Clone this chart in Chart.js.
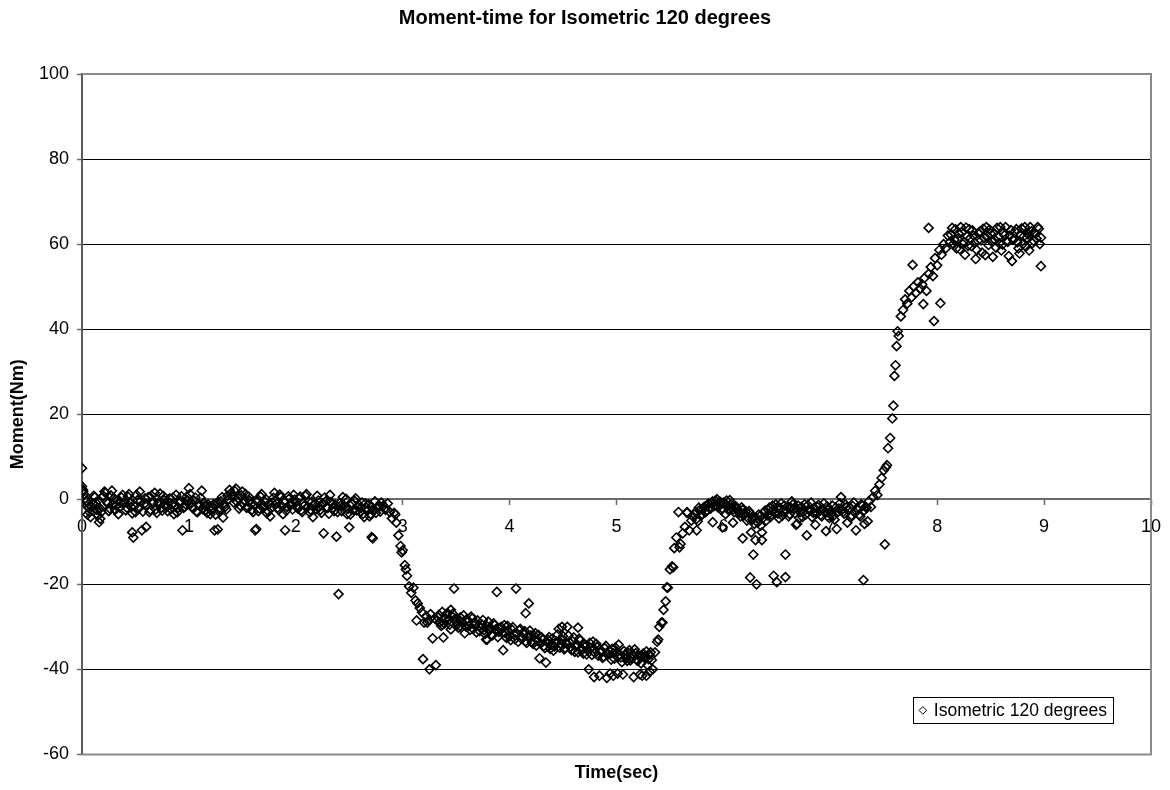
<!DOCTYPE html>
<html>
<head>
<meta charset="utf-8">
<title>Moment-time for Isometric 120 degrees</title>
<script src="https://cdn.jsdelivr.net/npm/chart.js@4.4.0/dist/chart.umd.min.js"></script>
<style>
  html, body { margin: 0; padding: 0; background: #ffffff; }
  canvas { display: block; }
</style>
</head>
<body>
<canvas id="chart" width="1170" height="790"></canvas>
<script>
// Isometric contraction at 120 degrees: moment (Nm) sampled over time (s)

// Resting phase (even readings)
const baselineTime = [
  0.00,0.02,0.04,0.06,0.08,0.10,0.12,0.14,0.16,0.18,
  0.20,0.22,0.24,0.26,0.28,0.30,0.32,0.34,0.36,0.38,
  0.40,0.42,0.44,0.46,0.48,0.50,0.52,0.54,0.56,0.58,
  0.60,0.62,0.64,0.66,0.68,0.70,0.72,0.74,0.76,0.78,
  0.80,0.82,0.84,0.86,0.88,0.90,0.92,0.94,0.96,0.98,
  1.00,1.02,1.04,1.06,1.08,1.10,1.12,1.14,1.16,1.18,
  1.20,1.22,1.24,1.26,1.28,1.30,1.32,1.34,1.36,1.38,
  1.40,1.42,1.44,1.46,1.48,1.50,1.52,1.54,1.56,1.58,
  1.60,1.62,1.64,1.66,1.68,1.70,1.72,1.74,1.76,1.78,
  1.80,1.82,1.84,1.86,1.88,1.90,1.92,1.94,1.96,1.98,
  2.00,2.02,2.04,2.06,2.08,2.10,2.12,2.14,2.16,2.18,
  2.20,2.22,2.24,2.26,2.28,2.30,2.32,2.34,2.36,2.38,
  2.40,2.42,2.44,2.46,2.48,2.50,2.52,2.54,2.56,2.58,
  2.60,2.62,2.64,2.66,2.68,2.70,2.72,2.74,2.76,2.78,
  2.80
];
const baselineMoment = [
  3.0, 1.2, -0.5, -2.0, -4.2, -1.0, 0.5, -2.5, -5.4, -3.0,
  0.8, 1.5, -1.0, -2.2, 2.0, 0.2, -1.5, -3.5, -0.8, 1.0,
  -0.5, -2.0, 1.2, -1.8, -9.0, -3.0, -0.2, 1.8, -7.3, -1.2,
  -6.5, 0.5, -2.5, -1.0, 1.5, -3.2, -0.6, -2.0, 0.8, -1.5,
  -2.8, 0.2, -1.2, -3.5, 1.0, -2.0, -0.5, -7.3, -1.8, 0.6,
  2.6, -1.0, -2.2, 0.4, -3.0, -1.5, 2.0, -0.8, -2.6, -1.2,
  -3.5, -2.0, -7.3, -1.0, -2.8, -0.5, -4.3, -1.8, 0.8, 2.2,
  1.0, -0.8, 2.5, 0.2, -1.5, 1.8, -0.2, -2.0, 0.6, -1.2,
  -3.0, -7.3, -0.5, -2.2, 1.2, -1.5, 0.0, -2.8, -4.0, -0.8,
  1.5, -1.0, -2.5, 0.5, -3.5, -7.3, -1.8, 0.2, -1.2, 1.0,
  -0.8, -2.2, 0.6, -3.0, -1.5, 1.2, -0.5, -2.5, -4.2, -1.0,
  0.8, -1.8, -3.2, -8.0, -0.5, -2.0, 1.0, -1.2, -2.8, -8.8,
  -22.3, -1.5, 0.5, -2.0, -3.5, -6.6, -1.0, -2.5, 0.2, -1.8,
  -3.0, -0.8, -4.2, -2.0, -1.2, -3.5, -9.2, -0.5, -2.2, -1.5,
  -0.8
];
// Resting phase (odd readings)
const baselineTimeOdd = [
  0.01,0.03,0.05,0.07,0.09,0.11,0.13,0.15,0.17,0.19,
  0.21,0.23,0.25,0.27,0.29,0.31,0.33,0.35,0.37,0.39,
  0.41,0.43,0.45,0.47,0.49,0.51,0.53,0.55,0.57,0.59,
  0.61,0.63,0.65,0.67,0.69,0.71,0.73,0.75,0.77,0.79,
  0.81,0.83,0.85,0.87,0.89,0.91,0.93,0.95,0.97,0.99,
  1.01,1.03,1.05,1.07,1.09,1.11,1.13,1.15,1.17,1.19,
  1.21,1.23,1.25,1.27,1.29,1.31,1.33,1.35,1.37,1.39,
  1.41,1.43,1.45,1.47,1.49,1.51,1.53,1.55,1.57,1.59,
  1.61,1.63,1.65,1.67,1.69,1.71,1.73,1.75,1.77,1.79,
  1.81,1.83,1.85,1.87,1.89,1.91,1.93,1.95,1.97,1.99,
  2.01,2.03,2.05,2.07,2.09,2.11,2.13,2.15,2.17,2.19,
  2.21,2.23,2.25,2.27,2.29,2.31,2.33,2.35,2.37,2.39,
  2.41,2.43,2.45,2.47,2.49,2.51,2.53,2.55,2.57,2.59,
  2.61,2.63,2.65,2.67,2.69,2.71,2.73,2.75,2.77,2.79
];
const baselineMomentOdd = [
  2.2, 0.2, -1.5, -3.0, -1.8, 0.8, -0.8, -3.8, -2.2, 0.5,
  1.8, -0.5, -2.8, 0.9, -1.2, -2.5, -0.3, -1.9, 0.4, -1.0,
  -2.6, 0.6, -0.9, -3.3, -1.6, 1.0, -2.2, -0.4, -2.9, 0.2,
  -1.4, -3.0, 0.9, -0.7, -2.4, -1.1, 1.3, -2.7, -0.2, -1.9,
  -0.6, -2.3, 0.4, -1.5, -3.1, -0.9, 0.7, -2.0, -1.2, -0.3,
  1.2, -1.8, -0.4, -2.9, -1.0, 0.3, -2.3, -1.5, -3.2, -2.0,
  -2.6, -1.2, -3.6, -0.7, -2.0, 0.5, -1.4, -2.4, 0.0, 1.4,
  0.4, 1.9, -0.6, -2.2, 0.9, -1.0, 1.2, -1.7, -0.4, -2.5,
  -1.3, -0.2, -2.8, 0.6, -1.9, -0.6, -3.3, -1.1, -2.1, 0.3,
  -0.4, -2.0, 1.1, -1.6, -0.5, -2.7, 0.7, -1.3, -2.4, -0.1,
  -1.7, 0.2, -2.6, -0.9, 0.8, -1.8, -3.1, -0.6, -1.4, -2.3,
  -0.3, -2.5, -1.0, 0.4, -1.9, -3.4, -0.7, -2.1, -1.3, -3.0,
  -0.9, -2.8, -1.5, 0.1, -2.2, -3.6, -1.1, -0.4, -2.6, -1.4,
  -2.1, -3.4, -1.0, -2.7, -4.0, -1.8, -2.5, -3.2, -1.6, -2.9
];

// Flexion onset
const dropTime = [
  2.82,2.84,2.86,2.88,2.90,2.92,2.94,2.96,2.98,3.00,
  3.02,3.04,3.06,3.08,3.10,3.12,3.14,3.16,3.18,3.20,
  3.22,3.24,3.26,3.28,3.30
];
const dropMoment = [
  -1.5, -2.5, -1.0, -3.0, -4.5, -3.2, -5.5, -8.5, -11.0, -12.0,
  -15.5, -18.0, -20.5, -22.0, -20.8, -23.8, -24.5, -25.6, -26.6, -29.0,
  -27.5, -28.5, -27.0, -32.7, -28.0
];

// Sustained flexion (even readings)
const holdTime = [
  3.32,3.34,3.36,3.38,3.40,3.42,3.44,3.46,3.48,3.50,
  3.52,3.54,3.56,3.58,3.60,3.62,3.64,3.66,3.68,3.70,
  3.72,3.74,3.76,3.78,3.80,3.82,3.84,3.86,3.88,3.90,
  3.92,3.94,3.96,3.98,4.00,4.02,4.04,4.06,4.08,4.10,
  4.12,4.14,4.16,4.18,4.20,4.22,4.24,4.26,4.28,4.30,
  4.32,4.34,4.36,4.38,4.40,4.42,4.44,4.46,4.48,4.50,
  4.52,4.54,4.56,4.58,4.60,4.62,4.64,4.66,4.68,4.70,
  4.72,4.74,4.76,4.78,4.80,4.82,4.84,4.86,4.88,4.90,
  4.92,4.94,4.96,4.98,5.00,5.02,5.04,5.06,5.08,5.10,
  5.12,5.14,5.16,5.18,5.20,5.22,5.24,5.26,5.28,5.30,
  5.32,5.34
];
const holdMoment = [
  -28.5, -27.2, -29.8, -32.5, -28.0, -26.8, -29.5, -27.5, -21.0, -28.8,
  -30.2, -27.8, -29.0, -31.5, -28.2, -29.8, -27.6, -30.5, -29.2, -28.5,
  -31.0, -29.5, -30.8, -33.0, -28.8, -30.2, -32.0, -29.6, -21.8, -31.2,
  -30.0, -35.5, -31.5, -29.8, -32.2, -30.6, -31.8, -21.0, -33.5, -30.5,
  -32.5, -31.0, -33.8, -24.5, -32.0, -34.0, -31.5, -33.2, -37.4, -32.5,
  -34.5, -38.4, -33.0, -35.2, -32.8, -34.6, -33.5, -30.5, -34.0, -32.2,
  -35.0, -30.0, -33.6, -35.5, -32.5, -34.8, -36.0, -33.2, -35.4, -34.0,
  -36.5, -40.0, -35.0, -33.5, -36.2, -34.8, -41.5, -35.8, -37.0, -34.5,
  -36.5, -41.0, -35.2, -37.5, -36.0, -34.2, -37.2, -41.2, -36.5, -38.0,
  -35.5, -37.5, -41.8, -36.2, -38.0, -36.8, -41.5, -37.0, -35.8, -37.6,
  -36.0, -40.0
];
// Sustained flexion (odd readings)
const holdTimeOdd = [
  3.33,3.35,3.37,3.39,3.41,3.43,3.45,3.47,3.49,3.51,
  3.53,3.55,3.57,3.59,3.61,3.63,3.65,3.67,3.69,3.71,
  3.73,3.75,3.77,3.79,3.81,3.83,3.85,3.87,3.89,3.91,
  3.93,3.95,3.97,3.99,4.01,4.03,4.05,4.07,4.09,4.11,
  4.13,4.15,4.17,4.19,4.21,4.23,4.25,4.27,4.29,4.31,
  4.33,4.35,4.37,4.39,4.41,4.43,4.45,4.47,4.49,4.51,
  4.53,4.55,4.57,4.59,4.61,4.63,4.65,4.67,4.69,4.71,
  4.73,4.75,4.77,4.79,4.81,4.83,4.85,4.87,4.89,4.91,
  4.93,4.95,4.97,4.99,5.01,5.03,5.05,5.07,5.09,5.11,
  5.13,5.15,5.17,5.19,5.21,5.23,5.25,5.27,5.29,5.31,
  5.33
];
const holdMomentOdd = [
  -27.8, -28.9, -26.5, -29.2, -27.0, -28.4, -30.6, -26.9, -28.1, -29.5,
  -28.6, -30.1, -27.3, -29.9, -28.8, -30.7, -28.0, -29.4, -31.3, -29.8,
  -30.3, -28.4, -31.7, -29.9, -30.9, -31.9, -29.2, -30.6, -32.4, -30.4,
  -31.4, -29.6, -32.6, -31.0, -33.1, -30.1, -32.9, -31.6, -30.8, -32.8,
  -31.7, -33.4, -32.3, -30.9, -33.7, -32.1, -34.4, -31.9, -33.9, -33.0,
  -35.0, -33.6, -32.4, -34.2, -35.6, -33.8, -31.8, -34.9, -33.2, -35.3,
  -33.9, -32.1, -34.7, -33.4, -35.9, -34.1, -32.8, -35.1, -36.3, -34.6,
  -35.5, -33.8, -36.6, -35.2, -34.0, -36.8, -35.7, -37.3, -35.0, -36.4,
  -35.6, -37.7, -36.2, -34.9, -37.0, -36.5, -38.3, -35.7, -37.4, -36.1,
  -37.9, -36.4, -35.3, -37.8, -36.9, -38.6, -36.3, -37.2, -39.0, -36.6,
  -37.8
];

// Release
const riseTime = [
  5.36,5.38,5.40,5.42,5.44,5.46,5.48,5.50,5.52,5.54,
  5.56,5.58,5.60,5.62,5.64,5.66,5.68,5.70
];
const riseMoment = [
  -36.0, -33.5, -30.0, -29.0, -26.0, -24.0, -20.8, -16.5, -15.8, -11.5,
  -9.0, -3.0, -10.5, -8.0, -6.5, -3.2, -7.3, -5.0
];

// Second rest (even readings)
const returnTime = [
  5.72,5.74,5.76,5.78,5.80,5.82,5.84,5.86,5.88,5.90,
  5.92,5.94,5.96,5.98,6.00,6.02,6.04,6.06,6.08,6.10,
  6.12,6.14,6.16,6.18,6.20,6.22,6.24,6.26,6.28,6.30,
  6.32,6.34,6.36,6.38,6.40,6.42,6.44,6.46,6.48,6.50,
  6.52,6.54,6.56,6.58,6.60,6.62,6.64,6.66,6.68,6.70,
  6.72,6.74,6.76,6.78,6.80,6.82,6.84,6.86,6.88,6.90,
  6.92,6.94,6.96,6.98,7.00,7.02,7.04,7.06,7.08,7.10,
  7.12,7.14,7.16,7.18,7.20,7.22,7.24,7.26,7.28,7.30,
  7.32,7.34
];
const returnMoment = [
  -4.2, -3.0, -5.2, -2.5, -3.5, -1.8, -2.8, -1.0, -2.2, -0.5,
  -1.5, 0.0, -1.2, -2.5, -0.8, -3.5, -1.5, -0.2, -2.0, -3.0,
  -1.8, -2.8, -4.0, -2.5, -3.5, -5.0, -2.8, -7.8, -4.2, -9.6,
  -5.5, -4.0, -7.8, -3.0, -5.0, -2.5, -4.2, -1.5, -3.2, -2.0,
  -4.5, -1.0, -2.8, -13.0, -1.8, -3.5, -0.5, -2.2, -6.0, -1.5,
  -3.0, -4.2, -1.2, -8.5, -2.5, -0.8, -3.2, -6.0, -1.8, -2.8,
  -4.0, -1.0, -7.5, -2.5, -3.6, -1.5, -4.8, -7.0, -2.2, 0.5,
  -3.0, -1.2, -5.5, -2.0, -3.8, -0.8, -7.3, -2.5, -4.0, -1.5,
  -5.8, -2.0
];
// Second rest (odd readings)
const returnTimeOdd = [
  5.73,5.75,5.77,5.79,5.81,5.83,5.85,5.87,5.89,5.91,
  5.93,5.95,5.97,5.99,6.01,6.03,6.05,6.07,6.09,6.11,
  6.13,6.15,6.17,6.19,6.21,6.23,6.25,6.27,6.29,6.31,
  6.33,6.35,6.37,6.39,6.41,6.43,6.45,6.47,6.49,6.51,
  6.53,6.55,6.57,6.59,6.61,6.63,6.65,6.67,6.69,6.71,
  6.73,6.75,6.77,6.79,6.81,6.83,6.85,6.87,6.89,6.91,
  6.93,6.95,6.97,6.99,7.01,7.03,7.05,7.07,7.09,7.11,
  7.13,7.15,7.17,7.19,7.21,7.23,7.25,7.27,7.29,7.31,
  7.33
];
const returnMomentOdd = [
  -3.6, -4.6, -2.0, -3.9, -2.4, -3.1, -1.4, -2.0, -0.8, -1.6,
  -0.4, -1.9, -0.6, -2.2, -1.0, -0.3, -2.6, -1.2, -2.4, -1.6,
  -2.2, -3.3, -1.9, -3.8, -2.9, -4.4, -3.3, -4.8, -5.8, -4.4,
  -3.6, -6.2, -4.4, -2.7, -3.8, -2.0, -3.6, -2.4, -1.2, -3.4,
  -2.1, -3.9, -1.5, -2.6, -4.0, -2.0, -1.2, -3.3, -2.4, -4.4,
  -1.8, -2.9, -3.6, -1.4, -2.7, -4.2, -2.0, -3.4, -1.3, -3.7,
  -2.3, -3.2, -1.7, -4.4, -2.8, -3.9, -2.0, -3.0, -1.0, -2.5,
  -3.4, -1.9, -2.6, -4.3, -1.6, -3.1, -2.2, -3.6, -1.2, -2.8,
  -1.8
];

// Extension ramp
const rampTime = [
  7.36,7.38,7.40,7.42,7.44,7.46,7.48,7.50,7.52,7.54,
  7.56,7.58,7.60,7.62,7.64,7.66,7.68,7.70,7.72,7.74,
  7.76,7.78,7.80,7.82,7.84,7.86,7.88,7.90,7.92,7.94,
  7.96,7.98,8.00,8.02,8.04,8.06,8.08,8.10
];
const rampMoment = [
  -0.5, -1.8, 0.5, 2.0, 1.0, 3.5, 5.0, 6.8, 7.5, 12.0,
  14.4, 19.0, 29.0, 36.0, 38.4, 43.0, 44.5, 47.0, 46.0, 49.0,
  47.5, 50.0, 48.5, 51.0, 49.5, 50.5, 52.0, 49.0, 53.0, 54.6,
  52.5, 56.7, 55.0, 58.6, 57.5, 60.0, 59.0, 62.0
];

// Sustained extension (even readings)
const plateauTime = [
  8.12,8.14,8.16,8.18,8.20,8.22,8.24,8.26,8.28,8.30,
  8.32,8.34,8.36,8.38,8.40,8.42,8.44,8.46,8.48,8.50,
  8.52,8.54,8.56,8.58,8.60,8.62,8.64,8.66,8.68,8.70,
  8.72,8.74,8.76,8.78,8.80,8.82,8.84,8.86,8.88,8.90,
  8.92,8.94,8.96
];
const plateauMoment = [
  60.5, 63.8, 61.0, 59.0, 62.5, 64.0, 60.0, 57.5, 61.8, 63.5,
  59.5, 62.0, 56.5, 60.8, 63.0, 58.0, 61.5, 64.0, 59.8, 62.5,
  57.0, 61.0, 63.8, 60.2, 58.5, 62.8, 64.0, 60.5, 62.0, 56.0,
  61.2, 63.5, 59.0, 62.2, 60.0, 64.0, 61.5, 58.5, 63.0, 60.8,
  62.5, 64.0, 60.0
];
// Sustained extension (odd readings)
const plateauTimeOdd = [
  8.13,8.15,8.17,8.19,8.21,8.23,8.25,8.27,8.29,8.31,
  8.33,8.35,8.37,8.39,8.41,8.43,8.45,8.47,8.49,8.51,
  8.53,8.55,8.57,8.59,8.61,8.63,8.65,8.67,8.69,8.71,
  8.73,8.75,8.77,8.79,8.81,8.83,8.85,8.87,8.89,8.91,
  8.93,8.95
];
const plateauMomentOdd = [
  62.2, 60.0, 63.5, 61.2, 58.8, 62.8, 60.5, 63.9, 59.6, 61.4,
  63.2, 60.3, 58.6, 62.4, 60.9, 63.6, 57.4, 61.9, 63.4, 60.6,
  62.6, 59.2, 61.6, 64.0, 59.9, 62.1, 60.8, 57.2, 63.3, 61.0,
  62.9, 60.4, 57.8, 63.7, 61.8, 59.4, 62.3, 64.0, 60.2, 62.7,
  61.3, 63.6
];

// Additional samples between the regular readings
const extraTime = [
  0.00, 0.01, 0.05, 0.13, 0.17, 0.47, 1.27, 1.63, 2.71, 2.93,
  2.99, 3.03, 3.13, 3.19, 3.23, 3.25, 3.31, 3.37, 3.45, 3.79,
  4.15, 4.49, 4.64, 4.79, 4.91, 4.97, 5.01, 5.22, 5.28, 5.31,
  5.39, 5.43, 5.47, 5.53, 5.59, 5.66, 5.75, 5.90, 5.99, 6.09,
  6.18, 6.25, 6.28, 6.31, 6.36, 6.47, 6.50, 6.58, 6.69, 7.31,
  7.35, 7.51, 7.53, 7.59, 7.61, 7.63, 7.77, 7.87, 7.92, 7.97,
  8.03, 8.97, 8.97
];
const extraMoment = [
  7.3, 1.8, -3.6, -1.6, -4.6, -7.8, -7.1, -7.0, -8.9, -3.6,
  -12.5, -16.5, -28.5, -37.6, -29.0, -40.0, -39.0, -29.5, -26.0, -33.0,
  -26.8, -30.0, -30.2, -41.8, -42.0, -41.5, -41.0, -41.2, -41.5, -40.5,
  -33.0, -29.0, -20.7, -16.0, -11.3, -3.0, -7.3, -5.4, -6.6, -5.5,
  -9.2, -18.4, -13.0, -20.0, -9.6, -18.0, -19.5, -18.3, -5.8, -19.0,
  -5.2, -10.6, 8.0, 22.0, 31.5, 39.5, 55.1, 45.9, 63.8, 41.9,
  46.1, 54.8, 61.5
];

// Axis ticks
const timeTicks = [0, 1, 2, 3, 4, 5, 6, 7, 8, 9, 10];
const momentTicks = [-60, -40, -20, 0, 20, 40, 60, 80, 100];

const seriesLabel = 'Isometric 120 degrees';

function zipSeries(times, moments) {
  const n = Math.min(times.length, moments.length);
  const out = [];
  for (let i = 0; i < n; i++) out.push({ x: times[i], y: moments[i] });
  return out;
}

const samples = [].concat(
  zipSeries(baselineTime, baselineMoment),
  zipSeries(baselineTimeOdd, baselineMomentOdd),
  zipSeries(dropTime, dropMoment),
  zipSeries(holdTime, holdMoment),
  zipSeries(holdTimeOdd, holdMomentOdd),
  zipSeries(riseTime, riseMoment),
  zipSeries(returnTime, returnMoment),
  zipSeries(returnTimeOdd, returnMomentOdd),
  zipSeries(rampTime, rampMoment),
  zipSeries(plateauTime, plateauMoment),
  zipSeries(plateauTimeOdd, plateauMomentOdd),
  zipSeries(extraTime, extraMoment)
);

const FONT = "'Liberation Sans', Arial, Helvetica, sans-serif";
Chart.defaults.font.family = FONT;
Chart.defaults.color = '#000000';

// Plot-area frame, drawn under the markers
const plotFrame = {
  id: 'plotFrame',
  beforeDatasetsDraw(chart) {
    const { ctx, chartArea: a } = chart;
    ctx.save();
    ctx.strokeStyle = '#8a8a8a';
    ctx.lineWidth = 2;
    ctx.beginPath();
    ctx.moveTo(a.left, a.top);
    ctx.lineTo(a.right, a.top);
    ctx.lineTo(a.right, a.bottom);
    ctx.lineTo(a.left, a.bottom);
    ctx.stroke();
    ctx.restore();
  }
};

// Boxed legend inside the lower right of the plot area
const boxedLegend = {
  id: 'boxedLegend',
  afterDraw(chart) {
    const { ctx, chartArea: a } = chart;
    const ds = chart.data.datasets[0];
    ctx.save();
    ctx.font = '17.5px ' + FONT;
    const tw = ctx.measureText(ds.label).width;
    const right = a.right - 38;
    const bottom = a.bottom - 31;
    const h = 26;
    const w = 21 + tw + 6;
    const left = right - w;
    const top = bottom - h;
    ctx.fillStyle = '#ffffff';
    ctx.fillRect(left, top, w, h);
    ctx.strokeStyle = '#000000';
    ctx.lineWidth = 1;
    ctx.strokeRect(Math.round(left) + 0.5, Math.round(top) + 0.5, Math.round(w), Math.round(h));
    Chart.helpers.drawPoint(ctx, {
      pointStyle: 'rectRot', radius: 3.8, borderWidth: 1.7, rotation: 0
    }, left + 10, top + h / 2);
    ctx.fillStyle = '#000000';
    ctx.textBaseline = 'middle';
    ctx.textAlign = 'left';
    ctx.fillText(ds.label, left + 21, top + h / 2 + 1);
    ctx.restore();
  }
};

new Chart(document.getElementById('chart'), {
  type: 'scatter',
  data: {
    datasets: [{
      label: seriesLabel,
      data: samples,
      xAxisID: 'x',
      yAxisID: 'y',
      pointStyle: 'rectRot',
      pointRadius: 4.5,
      pointBorderWidth: 1.6,
      pointBorderColor: '#000000',
      pointBackgroundColor: 'rgba(255,255,255,0)',
      showLine: false
    }]
  },
  options: {
    responsive: false,
    animation: false,
    events: [],
    layout: { padding: 0 },
    plugins: {
      legend: { display: false },
      tooltip: { enabled: false },
      title: {
        display: true,
        text: 'Moment-time for Isometric 120 degrees',
        font: { size: 20, weight: 'bold', family: FONT },
        color: '#000000',
        padding: { top: 6, bottom: 44 }
      }
    },
    scales: {
      x: {
        type: 'linear',
        position: { y: 0 },
        min: 0,
        max: 10,
        afterBuildTicks(scale) { scale.ticks = timeTicks.map(v => ({ value: v })); },
        // the end labels may overhang the plot frame
        afterFit(scale) { scale.paddingLeft = 0; scale.paddingRight = 0; },
        grid: { drawOnChartArea: false, drawTicks: true, tickLength: 5, tickColor: '#6a6a6a', tickWidth: 1.5 },
        border: { display: true, color: '#6a6a6a', width: 2 },
        ticks: { font: { size: 18 }, color: '#000000', padding: 12, maxRotation: 0, autoSkip: false }
      },
      x2: {
        type: 'linear',
        position: 'bottom',
        min: 0,
        max: 10,
        grid: { display: false, drawTicks: false },
        border: { display: false },
        ticks: { display: false },
        title: {
          display: true,
          text: 'Time(sec)',
          font: { size: 18, weight: 'bold', family: FONT },
          color: '#000000',
          padding: { top: 8, bottom: 6 }
        }
      },
      y: {
        type: 'linear',
        position: 'left',
        min: -60,
        max: 100,
        afterBuildTicks(scale) { scale.ticks = momentTicks.map(v => ({ value: v })); },
        afterFit(scale) { scale.width = 82; },
        grid: {
          color: ctx => (ctx.tick && (ctx.tick.value === 0 || ctx.tick.value === 100 || ctx.tick.value === -60)) ? 'rgba(0,0,0,0)' : '#000000',
          lineWidth: 1,
          drawTicks: true,
          tickLength: 5,
          tickColor: '#6a6a6a',
          tickWidth: 1.5
        },
        border: { display: true, color: '#5a5a5a', width: 2 },
        ticks: { font: { size: 18 }, color: '#000000', padding: 8 },
        title: {
          display: true,
          text: 'Moment(Nm)',
          font: { size: 18, weight: 'bold', family: FONT },
          color: '#000000',
          padding: { top: 7, bottom: 4 }
        }
      },
      yGutter: {
        type: 'linear',
        position: 'right',
        min: -60,
        max: 100,
        afterFit(scale) { scale.width = 19; },
        grid: { display: false, drawTicks: false },
        border: { display: false },
        ticks: { display: false }
      }
    }
  },
  plugins: [plotFrame, boxedLegend]
});
</script>
</body>
</html>
